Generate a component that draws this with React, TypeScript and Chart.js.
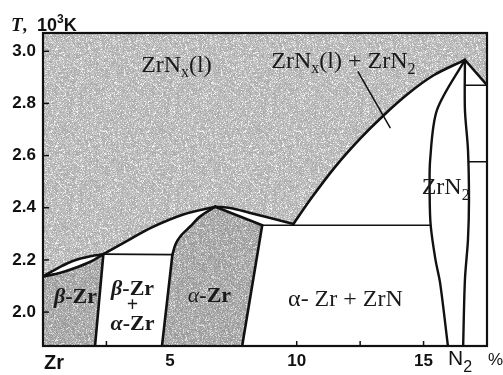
import { useEffect, useRef } from 'react';
import { Chart, registerables } from 'chart.js';

Chart.register(...registerables);

// Axis ranges: nitrogen content (%) and temperature (10^3 K)
const compRange = [0, 17.5];
const tempRange = [1.87, 3.07];
const compTickValues = [2.5, 5, 7.5, 10, 12.5, 15];
const compTickLabels = ['', '5', '', '10', '', '15'];
const tempTickValues = [2.0, 2.2, 2.4, 2.6, 2.8, 3.0];
const nitrideComp = 16.56;

// Phase boundaries as [composition %, T in 10^3 K]
const lensUpper = [[0, 2.136], [0.69, 2.174], [1.2, 2.197], [1.87, 2.214], [2.38, 2.222]];
const lensLower = [[0, 2.136], [0.69, 2.151], [1.2, 2.167], [1.87, 2.193], [2.38, 2.222]];
const liquidusBeta = [[2.38, 2.222], [3.3, 2.272], [4.23, 2.322], [5.53, 2.374], [6.79, 2.404]];
const liquidusAlpha = [[6.79, 2.404], [7.38, 2.399], [8.17, 2.38], [8.96, 2.361], [9.87, 2.338]];
const liquidusNitride = [[9.87, 2.338], [10.6, 2.44], [11.5, 2.555], [12.5, 2.665], [13.4, 2.752], [14.4, 2.838], [15.4, 2.908], [16.63, 2.967]];
const liquidusRight = [[16.63, 2.967], [17.5, 2.87]];
const alphaSolidus = [[6.79, 2.404], [8.64, 2.333]];
const alphaLeftUpper = [[5.1, 2.22], [5.22, 2.259], [5.41, 2.29], [5.81, 2.329], [6.2, 2.367], [6.79, 2.404]];
const alphaLeftLower = [[4.69, 1.87], [5.1, 2.22]];
const alphaRight = [[7.85, 1.87], [8.64, 2.333]];
const betaRight = [[2.05, 1.87], [2.38, 2.222]];
const betaEutectoid = [[2.38, 2.222], [5.1, 2.22]];
const peritectic = [[8.64, 2.333], [15.28, 2.333]];
const nitrideLeft = [[16.63, 2.967], [15.53, 2.775], [15.26, 2.584], [15.24, 2.45], [15.28, 2.333], [15.47, 2.2], [15.65, 2.113], [15.96, 1.87]];
const nitrideRight = [[16.63, 2.967], [16.63, 2.776], [16.75, 2.623], [16.79, 2.431], [16.75, 2.278], [16.63, 2.124], [16.56, 1.87]];
const upperShelf = [[16.63, 2.87], [17.5, 2.87]];
const lowerShelf = [[16.76, 2.576], [17.5, 2.576]];
const leader = [[12.42, 2.921], [13.68, 2.707]];

// Closed regions of the diagram
const liquidRegion = [
  [0, 3.07],
  ...lensUpper,
  ...liquidusBeta.slice(1),
  ...liquidusAlpha.slice(1),
  ...liquidusNitride.slice(1),
  [17.5, 2.87],
  [17.5, 3.07],
];
const betaRegion = [[0, 1.87], ...lensLower, [2.05, 1.87]];
const alphaRegion = [...alphaLeftLower, ...alphaLeftUpper.slice(1), [8.64, 2.333], [7.85, 1.87]];

const SERIF = '"Liberation Serif", "Times New Roman", serif';
const SANS = '"Liberation Sans", Arial, sans-serif';
const INK = '#111';

const pts = (a: number[][]) => a.map(([x, y]) => ({ x, y }));

function grain(i: number, j: number, s: number) {
  let h = Math.imul(i, 374761393) ^ Math.imul(j, 668265263) ^ Math.imul(s, 2246822519);
  h = Math.imul(h ^ (h >>> 13), 1274126177);
  h ^= h >>> 16;
  return (h >>> 0) / 4294967296;
}

// Stippled grey fill used for the shaded phase fields
function makeGrain(ctx: CanvasRenderingContext2D, base: number, spread: number) {
  const size = 97;
  const c = document.createElement('canvas');
  c.width = size;
  c.height = size;
  const g = c.getContext('2d')!;
  const img = g.createImageData(size, size);
  for (let j = 0; j < size; j++) {
    for (let i = 0; i < size; i++) {
      let v = base + (grain(i, j, 1) - 0.5) * spread;
      if (grain(i, j, 2) > 0.85) v += 45;
      v = Math.max(0, Math.min(255, v));
      const k = (j * size + i) * 4;
      img.data[k] = v;
      img.data[k + 1] = v;
      img.data[k + 2] = v;
      img.data[k + 3] = 255;
    }
  }
  g.putImageData(img, 0, 0);
  return ctx.createPattern(c, 'repeat')!;
}

type Run = { t: string; font: string; dy?: number };

function drawRuns(ctx: CanvasRenderingContext2D, runs: Run[], cx: number, baseline: number, align: 'center' | 'left' = 'center') {
  let w = 0;
  for (const r of runs) {
    ctx.font = r.font;
    w += ctx.measureText(r.t).width;
  }
  let x = align === 'center' ? cx - w / 2 : cx;
  ctx.textAlign = 'left';
  ctx.textBaseline = 'alphabetic';
  for (const r of runs) {
    ctx.font = r.font;
    ctx.fillText(r.t, x, baseline + (r.dy || 0));
    x += ctx.measureText(r.t).width;
  }
}

const decor = {
  id: 'phaseDecor',
  beforeDatasetsDraw(chart: any) {
    const { ctx, chartArea: a, scales } = chart;
    ctx.save();
    ctx.strokeStyle = INK;
    ctx.lineWidth = 1.5;
    for (const v of compTickValues) {
      const px = scales.x.getPixelForValue(v);
      ctx.beginPath();
      ctx.moveTo(px, a.bottom);
      ctx.lineTo(px, a.bottom - 5);
      ctx.stroke();
    }
    ctx.restore();
  },
  afterDatasetsDraw(chart: any) {
    const { ctx, chartArea: a, scales } = chart;
    const X = (v: number) => scales.x.getPixelForValue(v);
    const Y = (v: number) => scales.y.getPixelForValue(v);
    ctx.save();
    ctx.strokeStyle = INK;
    ctx.lineWidth = 1.5;
    for (const v of tempTickValues) {
      const py = Y(v);
      ctx.beginPath();
      ctx.moveTo(a.left, py);
      ctx.lineTo(a.left + 6, py);
      ctx.stroke();
    }
    ctx.lineWidth = 2.2;
    ctx.strokeRect(a.left, a.top, a.right - a.left, a.bottom - a.top);

    // Phase field names
    ctx.fillStyle = '#1a1a1a';
    const s24 = `24px ${SERIF}`;
    const s16 = `16px ${SERIF}`;
    drawRuns(ctx, [{ t: 'ZrN', font: s24 }, { t: 'x', font: s16, dy: 5 }, { t: '(l)', font: s24 }], X(5.26), Y(2.922));
    drawRuns(
      ctx,
      [
        { t: 'ZrN', font: s24 },
        { t: 'x', font: s16, dy: 5 },
        { t: '(l) + ZrN', font: s24 },
        { t: '2', font: s16, dy: 6 },
      ],
      X(11.84),
      Y(2.937)
    );
    drawRuns(ctx, [{ t: 'ZrN', font: s24 }, { t: '2', font: s16, dy: 6 }], X(15.87), Y(2.451));
    const bi = `italic bold 22px ${SERIF}`;
    const b = `bold 22px ${SERIF}`;
    drawRuns(ctx, [{ t: 'β', font: bi }, { t: '-Zr', font: b }], X(1.28), Y(2.036));
    drawRuns(ctx, [{ t: 'β', font: bi }, { t: '-Zr', font: b }], X(3.53), Y(2.067));
    drawRuns(ctx, [{ t: '+', font: `bold 20px ${SERIF}` }], X(3.53), Y(2.006));
    drawRuns(ctx, [{ t: 'α', font: bi }, { t: '-Zr', font: b }], X(3.53), Y(1.933));
    drawRuns(ctx, [{ t: 'α', font: `italic 22px ${SERIF}` }, { t: '-Zr', font: `bold 22px ${SERIF}` }], X(6.56), Y(2.04));
    drawRuns(ctx, [{ t: 'α- Zr + ZrN', font: s24 }], X(11.92), Y(2.025));

    // Axis captions
    ctx.fillStyle = INK;
    drawRuns(ctx, [{ t: 'T', font: `italic bold 19px ${SERIF}` }, { t: ',', font: `bold 18px ${SERIF}` }], 11, 31, 'left');
    drawRuns(
      ctx,
      [
        { t: '10', font: `bold 18px ${SANS}` },
        { t: '3', font: `bold 12px ${SANS}`, dy: -8 },
        { t: 'K', font: `bold 18px ${SANS}` },
      ],
      37,
      31,
      'left'
    );
    drawRuns(ctx, [{ t: 'Zr', font: `bold 20px ${SANS}` }], a.left + 1, 369, 'left');
    const nx = X(nitrideComp);
    ctx.font = `21px ${SANS}`;
    const nw = ctx.measureText('N').width;
    drawRuns(ctx, [{ t: 'N', font: `21px ${SANS}` }, { t: '2', font: `16px ${SANS}`, dy: 7 }], nx - nw, 365, 'left');
    drawRuns(ctx, [{ t: '%', font: `17px ${SANS}` }], a.right + 1, 365, 'left');
    ctx.restore();
  },
};

export default function App() {
  const ref = useRef<HTMLCanvasElement | null>(null);

  useEffect(() => {
    const canvas = ref.current!;
    const ctx = canvas.getContext('2d')!;
    const liquidFill = makeGrain(ctx, 186, 40);
    const solidFill = makeGrain(ctx, 168, 44);

    const curve = (d: number[][], width = 2.6, tension = 0.3) => ({
      data: pts(d),
      borderColor: INK,
      borderWidth: width,
      tension,
      fill: false,
      order: 1,
      borderCapStyle: 'round',
      borderJoinStyle: 'round',
    });
    const region = (d: number[][], fillStyle: any) => ({
      data: pts(d),
      borderWidth: 0,
      borderColor: 'rgba(0,0,0,0)',
      backgroundColor: fillStyle,
      tension: 0,
      fill: 'shape',
      order: 10,
    });

    const chart = new Chart(canvas, {
      type: 'line',
      data: {
        datasets: [
          region(liquidRegion, liquidFill),
          region(betaRegion, solidFill),
          region(alphaRegion, solidFill),
          curve(lensUpper),
          curve(lensLower),
          curve(liquidusBeta),
          curve(liquidusAlpha),
          curve(liquidusNitride),
          curve(liquidusRight, 2.4, 0),
          curve(alphaSolidus, 2.6, 0),
          curve(alphaLeftUpper),
          curve(alphaLeftLower, 2.6, 0),
          curve(alphaRight, 2.6, 0),
          curve(betaRight, 2.6, 0),
          curve(betaEutectoid, 1.8, 0),
          curve(peritectic, 1.5, 0),
          curve(nitrideLeft, 2.4, 0.3),
          curve(nitrideRight, 2.4, 0.3),
          curve(upperShelf, 1.5, 0),
          curve(lowerShelf, 1.5, 0),
          curve(leader, 1.5, 0),
        ] as any,
      },
      options: {
        responsive: false,
        animation: false,
        devicePixelRatio: 1,
        events: [],
        layout: { padding: { top: 33, right: 16, left: 0, bottom: 0 } },
        elements: { point: { radius: 0, hoverRadius: 0 } },
        plugins: { legend: { display: false }, tooltip: { enabled: false } },
        scales: {
          x: {
            type: 'linear',
            min: compRange[0],
            max: compRange[1],
            grid: { display: false, drawTicks: false },
            border: { display: false },
            afterFit: (s: any) => {
              s.height = 29;
            },
            afterBuildTicks: (s: any) => {
              s.ticks = compTickValues.map((v) => ({ value: v }));
            },
            ticks: {
              autoSkip: false,
              maxRotation: 0,
              padding: 5,
              color: INK,
              font: { family: SANS, size: 17, weight: 'bold' },
              callback: (_v: any, i: number) => compTickLabels[i],
            },
          },
          y: {
            type: 'linear',
            min: tempRange[0],
            max: tempRange[1],
            grid: { display: false, drawTicks: false },
            border: { display: false },
            afterFit: (s: any) => {
              s.width = 43;
            },
            afterBuildTicks: (s: any) => {
              s.ticks = tempTickValues.map((v) => ({ value: v }));
            },
            ticks: {
              autoSkip: false,
              padding: 7,
              color: INK,
              font: { family: SANS, size: 17, weight: 'bold' },
              callback: (v: any) => Number(v).toFixed(1),
            },
          },
        },
      } as any,
      plugins: [decor],
    });
    return () => chart.destroy();
  }, []);

  return (
    <div style={{ position: 'fixed', left: 0, top: 0, width: 503, height: 375, background: '#fff' }}>
      <canvas ref={ref} width={503} height={375} style={{ display: 'block', width: 503, height: 375 }} />
    </div>
  );
}
